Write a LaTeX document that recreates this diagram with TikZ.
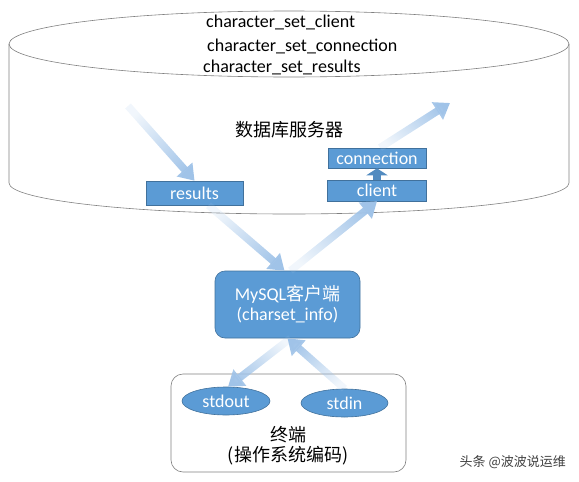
\documentclass[tikz,border=0pt]{standalone}
\usepackage{fontspec}
\setmainfont{Carlito}
\newfontfamily\cjk{Noto Sans CJK SC}
\usetikzlibrary{arrows.meta,shapes.geometric,fadings}
\definecolor{boxblue}{RGB}{91,155,213}
\definecolor{boxline}{RGB}{65,113,156}
\definecolor{flowblue}{RGB}{160,195,232}
\definecolor{rimgray}{RGB}{128,128,128}
\tikzfading[name=tailfade, left color=transparent!85, right color=transparent!0]
\tikzset{
  txt/.style={font=\fontsize{18}{20}\selectfont, inner sep=0pt},
  bluebox/.style={txt, rectangle, fill=boxblue, draw=boxline, line width=0.6pt, text=white},
  blueoval/.style={txt, ellipse, fill=boxblue, draw=boxline, line width=0.6pt, text=white, inner sep=0pt},
  flow/.style={line width=7.5pt, draw=flowblue, -{Triangle[width=20pt,length=15pt]}, path fading=tailfade, fading angle=#1},
}

\begin{document}
\begin{tikzpicture}[x=1pt, y=-1pt]
  \useasboundingbox (0,0) rectangle (579,482);
  \draw[rimgray, line width=0.6pt] (289,44) ellipse [x radius=280, y radius=33];
  \draw[rimgray, line width=0.6pt] (9,44) -- (9,183) arc [start angle=180, end angle=360, x radius=280, y radius=-31] -- (569,44);

  \node[txt, anchor=west] (cset1) at (206,22) {character\_set\_client};
  \node[txt, anchor=west] (cset2) at (207,46) {character\_set\_connection};
  \node[txt, anchor=west] (cset3) at (203,67) {character\_set\_results};
  \node[txt] (server) at (289,130) {\cjk 数据库服务器};

  \node[bluebox, minimum width=97pt, minimum height=24pt] (results) at (194.5,193) {results};
  \node[bluebox, minimum width=98pt, minimum height=20pt] (connection) at (377,158) {connection};
  \node[bluebox, minimum width=99pt, minimum height=21pt] (client) at (377,190.5) {client};
  \node[bluebox, rounded corners=10pt, minimum width=145pt, minimum height=67pt, align=center] (mysql) at (287.5,304.5) {MySQL{\cjk 客户端}\\(charset\_info)};

  \node[rectangle, rounded corners=12pt, draw=rimgray, line width=0.6pt, minimum width=235pt, minimum height=98pt] (term) at (288.5,423) {};
  \node[blueoval, minimum width=88pt, minimum height=28pt] (stdout) at (226,401) {stdout};
  \node[blueoval, minimum width=87pt, minimum height=28pt] (stdin) at (344.5,403) {stdin};
  \node[txt, align=center] (termlabel) at (288,446) {\cjk 终端\\\cjk (操作系统编码)};

  \node[font=\cjk\fontsize{13}{15}\selectfont, text=black!75, anchor=east, inner sep=0pt] (mark) at (566,462) {头条 @波波说运维};

  \coordinate (srcout) at (128,106);
  \coordinate (dstin) at (450,103);
  \draw[flow=-49] (srcout) -- (results.north);
  \draw[flow=-40] ([xshift=14pt]results.south) -- ([xshift=-3pt]mysql.north);
  \draw[flow=39] ([xshift=3pt]mysql.north) -- (client.south);
  \draw[flow=33] ([xshift=3pt]connection.north) -- (dstin);
  \draw[flow=218] ([xshift=3pt]mysql.south) -- ([xshift=2pt]stdout.north);
  \draw[flow=138] (stdin.north) -- (mysql.south);
  \draw[boxblue!90!black, line width=8pt, -{Triangle[width=21pt,length=7pt]}] (client.north) -- (connection.south);
\end{tikzpicture}
\end{document}
